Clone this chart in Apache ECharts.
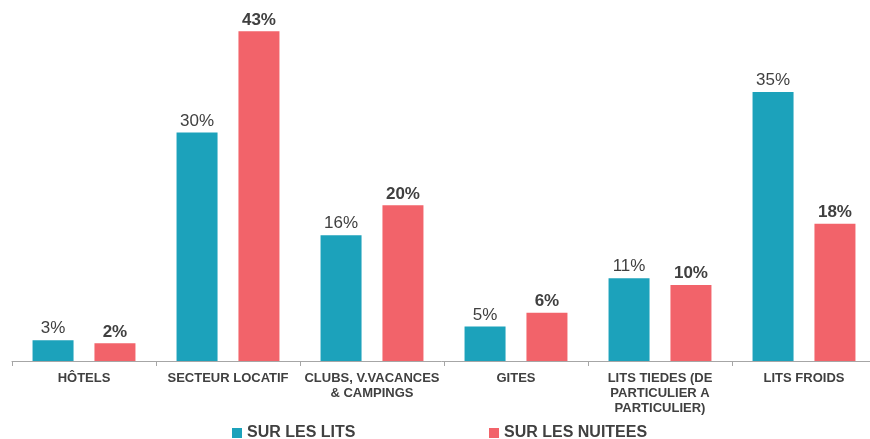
<!DOCTYPE html>
<html>
<head>
<meta charset="utf-8">
<script src="https://cdn.jsdelivr.net/npm/echarts@6/dist/echarts.min.js"></script>
<style>
html, body { margin: 0; padding: 0; background: #fff; }
#myChart { width: 870px; height: 439px; }
</style>
</head>
<body>
<div id="myChart"></div>
<script>
// données (hauteurs de barres estimées, étiquettes arrondies)
var categories = ['HÔTELS', 'SECTEUR LOCATIF', 'CLUBS, V.VACANCES\n& CAMPINGS', 'GITES', 'LITS TIEDES (DE\nPARTICULIER A\nPARTICULIER)', 'LITS FROIDS']
var surLesLits = [2.7, 29.8, 16.4, 4.5, 10.8, 35.1]
var surLesNuitees = [2.3, 43.0, 20.3, 6.3, 9.9, 17.9]
var seriesNames = ['SUR LES LITS', 'SUR LES NUITEES']

var myChart = echarts.init(document.getElementById('myChart'))
var labelFont = 'Liberation Sans, Arial, sans-serif'

function pct(p) {
  return Math.round(p.value) + '%'
}

myChart.setOption({
  animation: false,
  textStyle: { fontFamily: labelFont },
  legend: [
    {
      data: [seriesNames[0]],
      left: 227, top: 420,
      itemWidth: 10, itemHeight: 10, itemGap: 4,
      icon: 'rect',
      textStyle: { fontSize: 16, fontWeight: 'bold', color: '#404040', fontFamily: labelFont }
    },
    {
      data: [seriesNames[1]],
      left: 484, top: 420,
      itemWidth: 10, itemHeight: 10, itemGap: 4,
      icon: 'rect',
      textStyle: { fontSize: 16, fontWeight: 'bold', color: '#404040', fontFamily: labelFont }
    }
  ],
  grid: {
    left: 12,
    width: 864,
    top: 16,
    bottom: 78,
    containLabel: false,
    outerBoundsMode: 'none'
  },
  xAxis: {
    type: 'category',
    data: categories,
    axisLine: { lineStyle: { color: '#A6A6A6', width: 1 } },
    axisTick: { show: true, length: 5, lineStyle: { color: '#A6A6A6' } },
    axisLabel: {
      interval: 0,
      margin: 10,
      fontSize: 13,
      fontWeight: 'bold',
      color: '#404040',
      lineHeight: 15,
      fontFamily: labelFont
    }
  },
  yAxis: {
    type: 'value',
    min: 0,
    max: 45,
    show: false,
    splitLine: { show: false }
  },
  series: [
    {
      name: seriesNames[0],
      type: 'bar',
      data: surLesLits,
      barWidth: 41,
      barGap: '51%',
      itemStyle: { color: '#1CA2BB' },
      label: {
        show: true,
        position: 'top',
        distance: 3,
        formatter: pct,
        fontSize: 17,
        color: '#404040',
        fontFamily: labelFont
      }
    },
    {
      name: seriesNames[1],
      type: 'bar',
      data: surLesNuitees,
      barWidth: 41,
      itemStyle: { color: '#F2636A' },
      label: {
        show: true,
        position: 'top',
        distance: 3,
        formatter: pct,
        fontSize: 17,
        fontWeight: 'bold',
        color: '#404040',
        fontFamily: labelFont
      }
    }
  ]
})
</script>
</body>
</html>
